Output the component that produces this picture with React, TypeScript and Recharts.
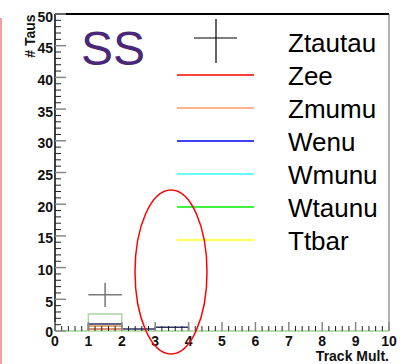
import {
  ComposedChart,
  ErrorBar,
  Line,
  ReferenceLine,
  Scatter,
  XAxis,
  YAxis,
} from "recharts";

// bin low edges 0..9 plus the closing edge 10 (value repeats the last bin)
const BIN_EDGES = [0, 1, 2, 3, 4, 5, 6, 7, 8, 9, 10];
const ZEE = [0, 0.3, 0, 0, 0, 0, 0, 0, 0, 0, 0];
const ZMUMU = [0, 0.8, 0, 0, 0, 0, 0, 0, 0, 0, 0];
const WENU = [0, 1.1, 0.3, 0.6, 0, 0, 0, 0, 0, 0, 0];
const WMUNU = [0, 0, 0, 0, 0, 0, 0, 0, 0, 0, 0];
const WTAUNU = [0, 2.7, 0, 0, 0, 0, 0, 0, 0, 0, 0];
const TTBAR = [0, 0, 0, 0, 0, 0, 0, 0, 0, 0, 0];

const ZTAUTAU = [{ x: 1.5, y: 5.7, ex: 0.5, ey: 1.9 }];

const LEGEND_NAMES = ["Ztautau", "Zee", "Zmumu", "Wenu", "Wmunu", "Wtaunu", "Ttbar"];
const LEGEND_COLORS = ["#000", "#ff0000", "#ff9966", "#0000ff", "#33ffff", "#00ee00", "#ffff66"];

const Y_LABELS = [0, 5, 10, 15, 20, 25, 30, 35, 40, 45, 50];
const X_LABELS = [0, 1, 2, 3, 4, 5, 6, 7, 8, 9, 10];
const Y_TICKS = Array.from({ length: 51 }, (_, i) => i);
const X_TICKS = Array.from({ length: 51 }, (_, i) => Math.round(i * 2) / 10);

const W = 411;
const H = 364;
const M = { top: 14, right: 22, left: 25, bottom: 11 };
const Y_W = 30;
const X_H = 22;
const PL = M.left + Y_W; // plot left
const PB = H - M.bottom - X_H; // plot bottom

const FONT = '"Liberation Sans", Arial, Helvetica, sans-serif';

const data = BIN_EDGES.map((x, i) => ({
  x,
  zee: ZEE[i],
  zmumu: ZMUMU[i],
  wenu: WENU[i],
  wmunu: WMUNU[i],
  wtaunu: WTAUNU[i],
  ttbar: TTBAR[i],
}));

function YTick(props: any) {
  const y = props.payload.coordinate;
  const v = props.payload.value;
  const major = Y_LABELS.includes(v);
  return (
    <g>
      <line
        x1={PL}
        x2={PL + (major ? 11 : 6)}
        y1={y}
        y2={y}
        stroke={major ? "#888" : "#222"}
        strokeWidth={major ? 1.5 : 1}
      />
      {major && (
        <text x={PL - 2} y={y + (v === 0 ? 6 : 7.5)} textAnchor="end" fontFamily={FONT} fontWeight="bold" fontSize={14} fill="#111">
          {v}
        </text>
      )}
    </g>
  );
}

function XTick(props: any) {
  const x = props.payload.coordinate;
  const v = props.payload.value;
  const major = X_LABELS.some((l) => Math.abs(l - v) < 1e-6);
  return (
    <g>
      <line
        x1={x}
        x2={x}
        y1={PB}
        y2={PB - (major ? 9 : 5)}
        stroke={major ? "#888" : "#222"}
        strokeWidth={major ? 1.5 : 1}
      />
      {major && (
        <text x={x} y={PB + 15} textAnchor="middle" fontFamily={FONT} fontWeight="bold" fontSize={14} fill="#111">
          {Math.round(v)}
        </text>
      )}
    </g>
  );
}

function Overlay() {
  const rowY = (i: number) => 43 + i * 33;
  return (
    <svg
      width={W}
      height={H}
      style={{ position: "absolute", left: 0, top: 0, pointerEvents: "none" }}
      fontFamily={FONT}
    >
      <line x1={1} x2={1} y1={18} y2={H} stroke="#f4a0a0" strokeWidth={2} />
      <text x={81} y={65} fontSize={48} fill="#4a2878">
        SS
      </text>
      <text
        x={0}
        y={0}
        transform="translate(35 36) rotate(-90)"
        textAnchor="middle"
        fontSize={14}
        fontWeight="bold"
        fill="#111"
      >
        # Taus
      </text>
      <text x={389} y={361} textAnchor="end" fontSize={14} fontWeight="bold" fill="#111">
        Track Mult.
      </text>
      {LEGEND_NAMES.map((name, i) => {
        const cy = rowY(i);
        return (
          <g key={name}>
            {i === 0 ? (
              <g stroke="#000" strokeWidth={1.2}>
                <line x1={194} x2={237} y1={38} y2={38} />
                <line x1={216} x2={216} y1={19} y2={63} />
              </g>
            ) : (
              <line
                x1={177}
                x2={254}
                y1={cy - 1}
                y2={cy - 1}
                stroke={LEGEND_COLORS[i]}
                strokeWidth={name === "Ttbar" ? 2.5 : 1.3}
              />
            )}
            <text x={288} y={cy + 9.3} fontSize={26} fill="#000">
              {name}
            </text>
          </g>
        );
      })}
      <ellipse cx={171} cy={272} rx={36} ry={82} fill="none" stroke="#ff0000" strokeWidth={1.5} />
    </svg>
  );
}

export default function App() {
  return (
    <div style={{ position: "absolute", left: 0, top: 0, width: W, height: H, background: "#fff" }}>
      <ComposedChart width={W} height={H} data={data} margin={M}>
        <XAxis
          type="number"
          dataKey="x"
          domain={[0, 10]}
          ticks={X_TICKS}
          interval={0}
          height={X_H}
          axisLine={{ stroke: "#b8e0b0", strokeWidth: 1.5 }}
          tickLine={false}
          tick={(p: any) => <XTick {...p} />}
        />
        <YAxis
          type="number"
          domain={[0, 50]}
          ticks={Y_TICKS}
          interval={0}
          width={Y_W}
          axisLine={{ stroke: "#000", strokeWidth: 1.5 }}
          tickLine={false}
          tick={(p: any) => <YTick {...p} />}
        />
        <ReferenceLine y={50} stroke="#000" strokeWidth={2} />
        <ReferenceLine x={10} stroke="#666" strokeWidth={1} />
        <Line dataKey="zee" type="stepAfter" stroke="#d86848" strokeWidth={1.5} dot={false} isAnimationActive={false} />
        <Line dataKey="zmumu" type="stepAfter" stroke="#d49050" strokeWidth={1.5} dot={false} isAnimationActive={false} />
        <Line dataKey="wenu" type="stepAfter" stroke="#30306c" strokeWidth={1.5} dot={false} isAnimationActive={false} />
        <Line dataKey="wmunu" type="stepAfter" stroke="#a8e8e8" strokeWidth={1.5} dot={false} isAnimationActive={false} />
        <Line dataKey="ttbar" type="stepAfter" stroke="#f0f0a0" strokeWidth={1.5} dot={false} isAnimationActive={false} />
        <Line dataKey="wtaunu" type="stepAfter" stroke="#a8d8a0" strokeWidth={1.5} dot={false} isAnimationActive={false} />
        <Scatter data={ZTAUTAU} dataKey="y" shape={() => <g />} isAnimationActive={false}>
          <ErrorBar dataKey="ey" direction="y" width={0} stroke="#777" strokeWidth={1.5} />
          <ErrorBar dataKey="ex" direction="x" width={0} stroke="#777" strokeWidth={1.5} />
        </Scatter>
      </ComposedChart>
      <Overlay />
    </div>
  );
}
